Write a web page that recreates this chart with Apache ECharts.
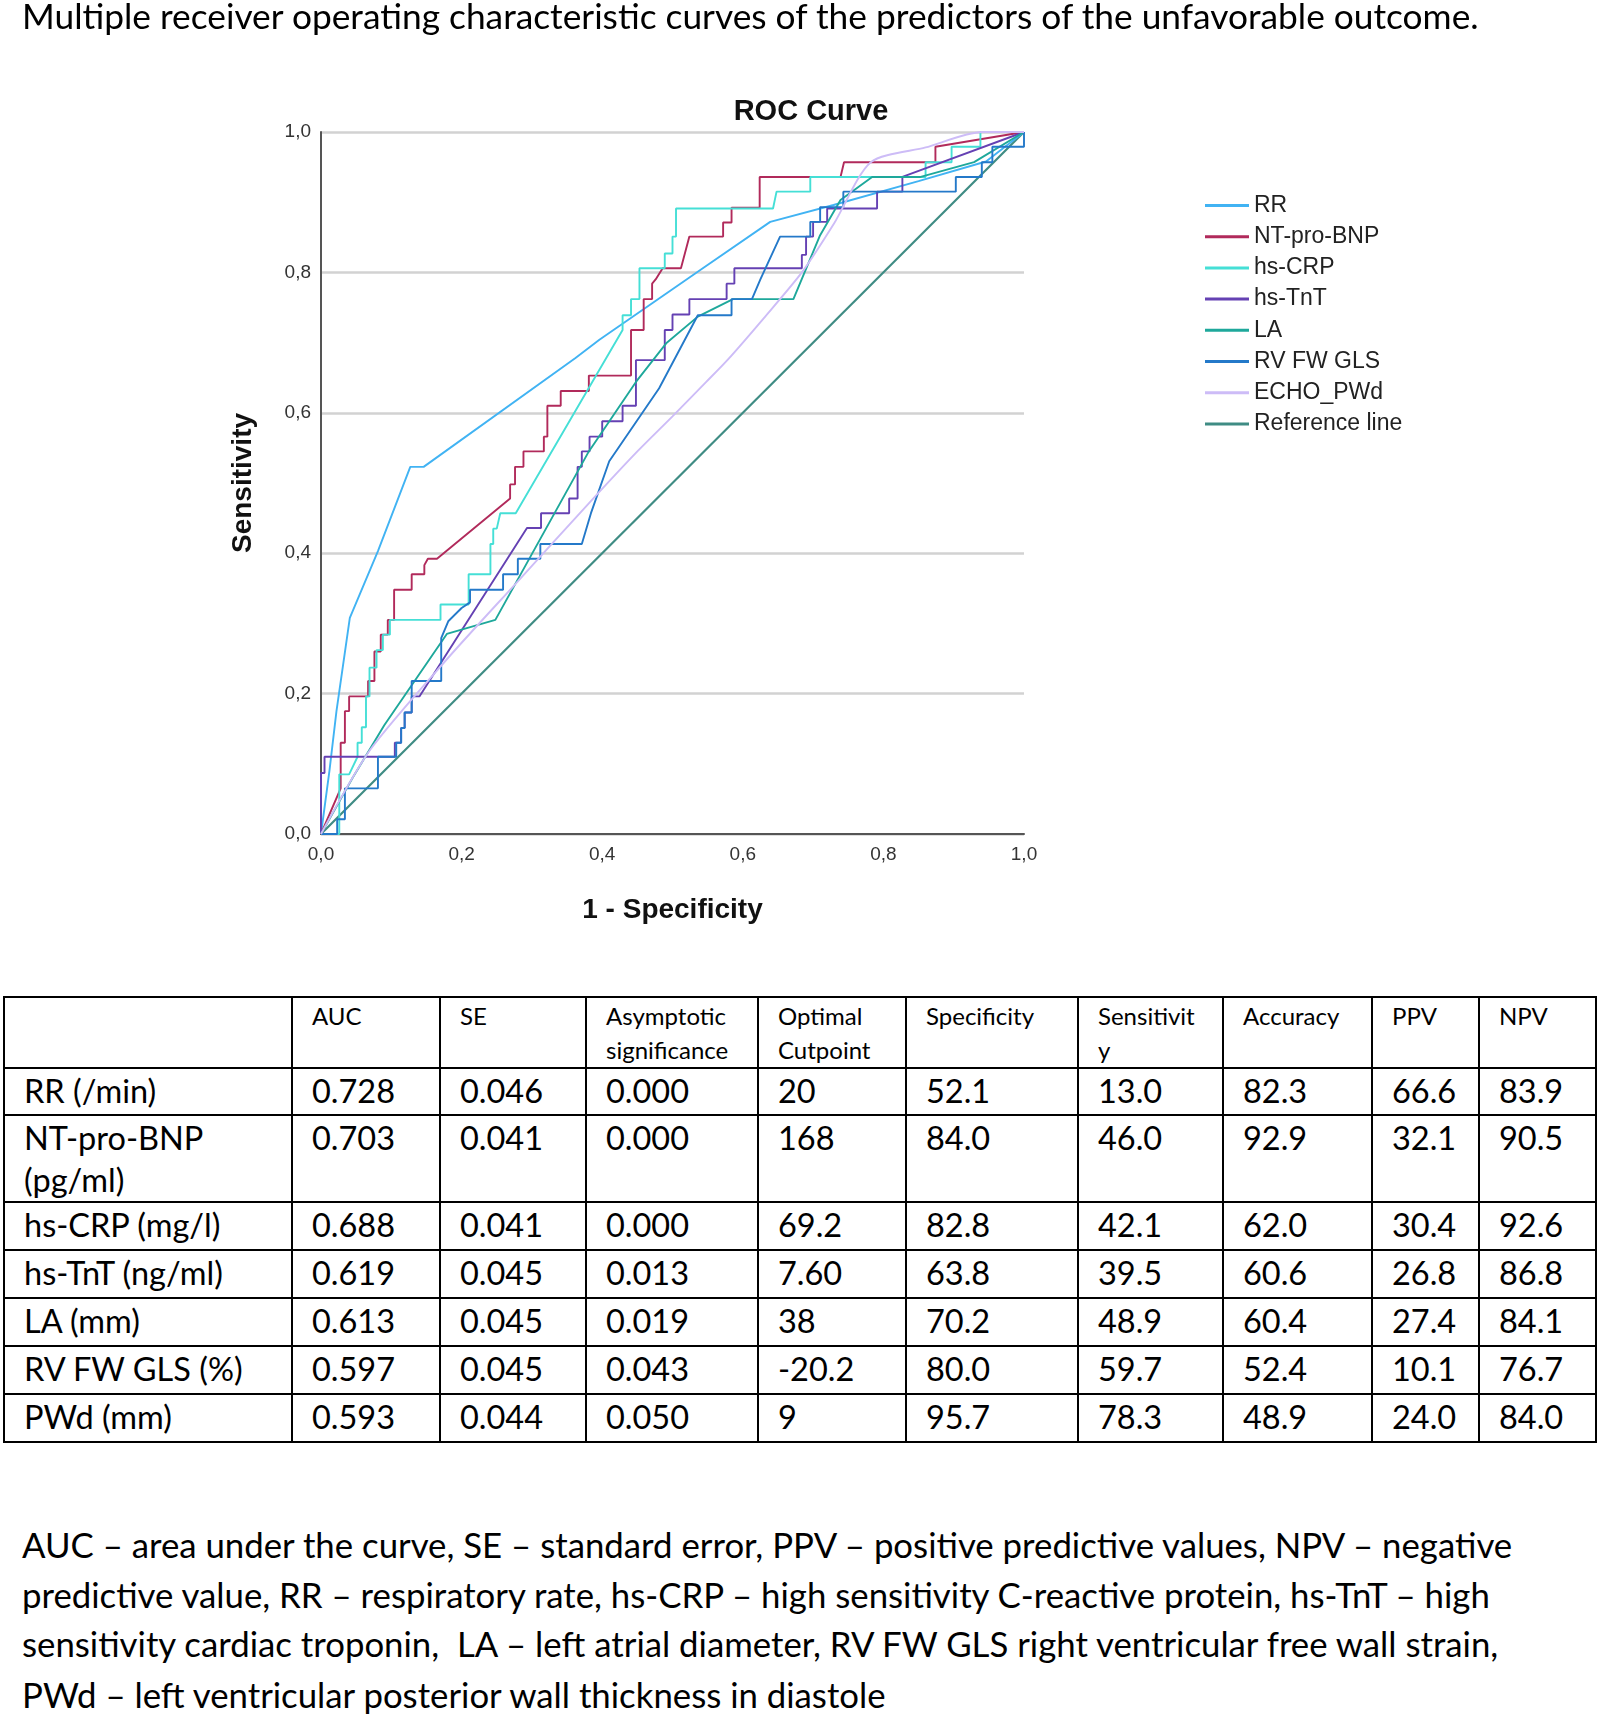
<!DOCTYPE html>
<html>
<head>
<meta charset="utf-8">
<script src="https://cdn.jsdelivr.net/npm/echarts@6/dist/echarts.min.js"></script>
<style>
  html, body { margin:0; padding:0; background:#fff; }
  body { width:1600px; height:1717px; position:relative; overflow:hidden; font-family: Lato, "Open Sans", sans-serif; color:#000; }
  #chart { position:absolute; left:0; top:0; width:1600px; height:980px; z-index:1; }
  .line { position:absolute; left:22px; white-space:nowrap; line-height:40px; height:40px; font-family: Lato, sans-serif; font-size:30px; z-index:2; }
  #tbl { position:absolute; left:3px; top:996px; border-collapse:collapse; table-layout:fixed; font-family: Lato, sans-serif; }
  #tbl td { border:2px solid #000; padding:1px 0 0 19px; vertical-align:top; box-sizing:border-box; overflow:hidden; white-space:nowrap; }
  #tbl tr.head td { font-size:24px; line-height:34px; }
  #tbl tr.body td { font-size:32.5px; line-height:42px; }
</style>
</head>
<body>
<div id="chart"></div>
<div class="line" id="topTitle" style="top:-4px">Multiple receiver operating characteristic curves of the predictors of the unfavorable outcome.</div>
<table id="tbl"></table>
<div class="line foot" id="f1" style="top:1525px">AUC – area under the curve, SE – standard error, PPV – positive predictive values, NPV – negative</div>
<div class="line foot" id="f2" style="top:1575px">predictive value, RR – respiratory rate, hs-CRP – high sensitivity C-reactive protein, hs-TnT – high</div>
<div class="line foot" id="f3" style="top:1624px">sensitivity cardiac troponin,&nbsp; LA – left atrial diameter, RV FW GLS right ventricular free wall strain,</div>
<div class="line foot" id="f4" style="top:1675px">PWd – left ventricular posterior wall thickness in diastole</div>
<script>
// ---------- ROC curve points [1 - specificity, sensitivity] ----------
const rrPoints = [[0,0],[0.012,0.09],[0.022,0.175],[0.041,0.308],[0.081,0.403],[0.127,0.523],[0.146,0.523],[0.362,0.678],[0.396,0.704],[0.539,0.803],[0.639,0.872],[0.729,0.896],[0.85,0.93],[0.946,0.958],[1,1]];
const ntProBnpPoints = [[0,0],[0.028,0.065],[0.028,0.13],[0.034,0.13],[0.034,0.175],[0.04,0.175],[0.04,0.196],[0.067,0.196],[0.067,0.218],[0.076,0.218],[0.076,0.26],[0.085,0.26],[0.085,0.284],[0.095,0.284],[0.095,0.305],[0.104,0.305],[0.104,0.348],[0.129,0.348],[0.129,0.37],[0.147,0.37],[0.147,0.383],[0.152,0.392],[0.165,0.392],[0.269,0.478],[0.269,0.498],[0.276,0.498],[0.276,0.523],[0.288,0.523],[0.288,0.545],[0.317,0.545],[0.317,0.566],[0.322,0.566],[0.322,0.61],[0.341,0.61],[0.341,0.631],[0.381,0.631],[0.381,0.653],[0.441,0.653],[0.441,0.718],[0.459,0.718],[0.459,0.762],[0.471,0.762],[0.471,0.784],[0.476,0.79],[0.486,0.806],[0.512,0.806],[0.524,0.851],[0.572,0.851],[0.572,0.871],[0.584,0.871],[0.584,0.892],[0.624,0.892],[0.624,0.936],[0.739,0.936],[0.744,0.957],[0.874,0.957],[0.874,0.979],[1,1]];
const hsCrpPoints = [[0,0],[0.026,0],[0.026,0.085],[0.04,0.085],[0.052,0.11],[0.052,0.13],[0.058,0.13],[0.058,0.152],[0.064,0.152],[0.064,0.196],[0.069,0.196],[0.069,0.237],[0.079,0.237],[0.079,0.262],[0.088,0.262],[0.088,0.284],[0.098,0.284],[0.098,0.305],[0.17,0.305],[0.17,0.327],[0.21,0.327],[0.21,0.37],[0.241,0.37],[0.241,0.413],[0.245,0.413],[0.245,0.435],[0.25,0.435],[0.255,0.457],[0.277,0.457],[0.429,0.718],[0.429,0.739],[0.441,0.739],[0.441,0.762],[0.453,0.762],[0.453,0.806],[0.489,0.806],[0.489,0.827],[0.5,0.827],[0.5,0.851],[0.505,0.851],[0.505,0.891],[0.643,0.891],[0.648,0.915],[0.696,0.915],[0.696,0.936],[0.86,0.936],[0.86,0.957],[0.897,0.957],[0.897,0.979],[0.938,0.979],[0.938,1],[1,1]];
const hsTnTPoints = [[0,0],[0,0.087],[0.005,0.087],[0.005,0.11],[0.105,0.11],[0.105,0.13],[0.114,0.13],[0.114,0.151],[0.119,0.151],[0.119,0.173],[0.129,0.173],[0.129,0.196],[0.14,0.196],[0.293,0.436],[0.313,0.436],[0.313,0.457],[0.353,0.457],[0.353,0.478],[0.365,0.478],[0.365,0.523],[0.371,0.523],[0.371,0.545],[0.382,0.545],[0.382,0.566],[0.4,0.566],[0.4,0.588],[0.429,0.588],[0.429,0.61],[0.448,0.61],[0.448,0.675],[0.489,0.675],[0.489,0.718],[0.5,0.718],[0.5,0.74],[0.524,0.74],[0.524,0.762],[0.577,0.762],[0.577,0.784],[0.588,0.784],[0.588,0.806],[0.684,0.806],[0.684,0.825],[0.69,0.825],[0.69,0.851],[0.7,0.851],[0.7,0.872],[0.72,0.872],[0.72,0.891],[0.791,0.891],[0.791,0.915],[0.827,0.915],[0.827,0.936],[1,1]];
const laPoints = [[0,0],[0.045,0.08],[0.09,0.155],[0.179,0.285],[0.248,0.305],[0.381,0.545],[0.448,0.644],[0.491,0.699],[0.536,0.737],[0.586,0.762],[0.672,0.762],[0.71,0.853],[0.739,0.903],[0.784,0.936],[0.853,0.936],[0.929,0.957],[1,1]];
const rvFwGlsPoints = [[0,0],[0.023,0],[0.023,0.021],[0.034,0.021],[0.034,0.065],[0.081,0.065],[0.081,0.11],[0.107,0.11],[0.107,0.13],[0.114,0.13],[0.114,0.151],[0.119,0.151],[0.119,0.173],[0.129,0.173],[0.129,0.218],[0.171,0.218],[0.171,0.279],[0.181,0.303],[0.2,0.322],[0.212,0.33],[0.212,0.348],[0.259,0.348],[0.259,0.37],[0.28,0.37],[0.28,0.392],[0.312,0.392],[0.312,0.413],[0.371,0.413],[0.384,0.457],[0.41,0.531],[0.481,0.635],[0.536,0.739],[0.584,0.739],[0.584,0.762],[0.613,0.762],[0.625,0.79],[0.653,0.851],[0.696,0.851],[0.696,0.872],[0.71,0.872],[0.71,0.893],[0.743,0.893],[0.743,0.915],[0.903,0.915],[0.903,0.936],[0.94,0.936],[0.94,0.957],[0.955,0.957],[0.955,0.979],[1,0.979],[1,1]];
const echoPwdPoints = [[0,0],[0.07,0.12],[0.18,0.25],[0.28,0.36],[0.38,0.47],[0.45,0.545],[0.5,0.595],[0.548,0.644],[0.578,0.675],[0.63,0.735],[0.684,0.8],[0.73,0.87],[0.782,0.957],[0.86,0.978],[0.94,1],[1,1]];
const referencePoints = [[0,0],[1,1]];

const seriesNames = ['RR','NT-pro-BNP','hs-CRP','hs-TnT','LA','RV FW GLS','ECHO_PWd','Reference line'];
const seriesColors = ['#41b3f3','#b12a5b','#45dfd6','#6541b3','#1ea89b','#2479c9','#cdbcf7','#3f8c84'];
const seriesData = [rrPoints, ntProBnpPoints, hsCrpPoints, hsTnTPoints, laPoints, rvFwGlsPoints, echoPwdPoints, referencePoints];
const axisTicks = [0, 0.2, 0.4, 0.6, 0.8, 1.0];

// ---------- table ----------
const tableHeader = ['', 'AUC', 'SE', 'Asymptotic<br>significance', 'Optimal<br>Cutpoint', 'Specificity', 'Sensitivit<br>y', 'Accuracy', 'PPV', 'NPV'];
const rowLabels = ['RR (/min)', 'NT-pro-BNP<br>(pg/ml)', 'hs-CRP (mg/l)', 'hs-TnT (ng/ml)', 'LA (mm)', 'RV FW GLS (%)', 'PWd (mm)'];
const aucValues = ['0.728','0.703','0.688','0.619','0.613','0.597','0.593'];
const seValues = ['0.046','0.041','0.041','0.045','0.045','0.045','0.044'];
const significanceValues = ['0.000','0.000','0.000','0.013','0.019','0.043','0.050'];
const cutpointValues = ['20','168','69.2','7.60','38','-20.2','9'];
const specificityValues = ['52.1','84.0','82.8','63.8','70.2','80.0','95.7'];
const sensitivityValues = ['13.0','46.0','42.1','39.5','48.9','59.7','78.3'];
const accuracyValues = ['82.3','92.9','62.0','60.6','60.4','52.4','48.9'];
const ppvValues = ['66.6','32.1','30.4','26.8','27.4','10.1','24.0'];
const npvValues = ['83.9','90.5','92.6','86.8','84.1','76.7','84.0'];

const colWidths = [288,148,146,172,148,172,145,149,107,117];
const rowHeights = [69,47,84,48,48,48,48,48];

(function buildTable(){
  const t = document.getElementById('tbl');
  const cg = document.createElement('colgroup');
  colWidths.forEach(w => { const c = document.createElement('col'); c.style.width = w + 'px'; cg.appendChild(c); });
  t.appendChild(cg);
  t.style.width = colWidths.reduce((a,b)=>a+b,0) + 'px';
  const hr = document.createElement('tr'); hr.className = 'head'; hr.style.height = rowHeights[0] + 'px';
  tableHeader.forEach(h => { const td = document.createElement('td'); td.innerHTML = h; td.style.height = rowHeights[0]+'px'; hr.appendChild(td); });
  t.appendChild(hr);
  const cols = [aucValues, seValues, significanceValues, cutpointValues, specificityValues, sensitivityValues, accuracyValues, ppvValues, npvValues];
  rowLabels.forEach((lab, i) => {
    const tr = document.createElement('tr'); tr.className = 'body'; tr.style.height = rowHeights[i+1] + 'px';
    const td0 = document.createElement('td'); td0.innerHTML = lab; td0.style.height = rowHeights[i+1]+'px'; tr.appendChild(td0);
    cols.forEach(c => { const td = document.createElement('td'); td.textContent = c[i]; td.style.height = rowHeights[i+1]+'px'; tr.appendChild(td); });
    t.appendChild(tr);
  });
})();

function fitWidth(el, target){
  const w = el.getBoundingClientRect().width;
  const fs = parseFloat(getComputedStyle(el).fontSize);
  const nf = fs * target / w;
  el.style.fontSize = nf + 'px';
  return nf;
}
fitWidth(document.getElementById('topTitle'), 1457);
const ff = fitWidth(document.getElementById('f1'), 1491);
['f2','f3','f4'].forEach(id => document.getElementById(id).style.fontSize = ff + 'px');

// ---------- chart ----------
const chart = echarts.init(document.getElementById('chart'), null, {renderer:'canvas'});
const fmt = v => v.toFixed(1).replace('.', ',');
const axisFont = 'Liberation Sans';
chart.setOption({
  animation: false,
  backgroundColor: 'transparent',
  grid: { left: 321, top: 132, width: 703, height: 702, containLabel: false },
  xAxis: {
    type: 'value', min: 0, max: 1, interval: 0.2,
    name: '1 - Specificity', nameLocation: 'middle', nameGap: 62,
    nameTextStyle: { fontFamily: axisFont, fontWeight: 'bold', fontSize: 28, color: '#111' },
    axisLine: { show: true, lineStyle: { color: '#555', width: 2 } },
    axisTick: { show: false },
    axisLabel: { formatter: fmt, fontFamily: axisFont, fontSize: 19, color: '#333', margin: 11 },
    splitLine: { show: false }
  },
  yAxis: {
    type: 'value', min: 0, max: 1, interval: 0.2,
    name: 'Sensitivity', nameLocation: 'middle', nameGap: 64,
    nameTextStyle: { fontFamily: axisFont, fontWeight: 'bold', fontSize: 28, color: '#111' },
    axisLine: { show: true, lineStyle: { color: '#555', width: 2 } },
    axisTick: { show: false },
    axisLabel: { formatter: fmt, fontFamily: axisFont, fontSize: 19, color: '#333', margin: 10 },
    splitLine: { show: true, lineStyle: { color: '#d2d2d2', width: 2.5 } }
  },
  legend: {
    data: seriesNames,
    orient: 'vertical', left: 1200, top: 189,
    icon: 'rect', itemWidth: 44, itemHeight: 3, itemGap: 8.2,
    textStyle: { fontFamily: axisFont, fontSize: 23, color: '#222', lineHeight: 22 }
  },
  graphic: [{
    type: 'text', x: 811, y: 112,
    style: { text: 'ROC Curve', fontFamily: axisFont, fontWeight: 'bold', fontSize: 29, fill: '#111', align: 'center', verticalAlign: 'middle' }
  }],
  series: seriesNames.map((n, i) => ({
    name: n, type: 'line', data: seriesData[i],
    showSymbol: false, symbol: 'none',
    smooth: n === 'ECHO_PWd' ? 0.25 : false,
    color: seriesColors[i],
    lineStyle: { width: n === 'Reference line' ? 2.2 : 1.9, color: seriesColors[i] },
    z: n === 'Reference line' ? 1 : 2
  }))
});
</script>
</body>
</html>
